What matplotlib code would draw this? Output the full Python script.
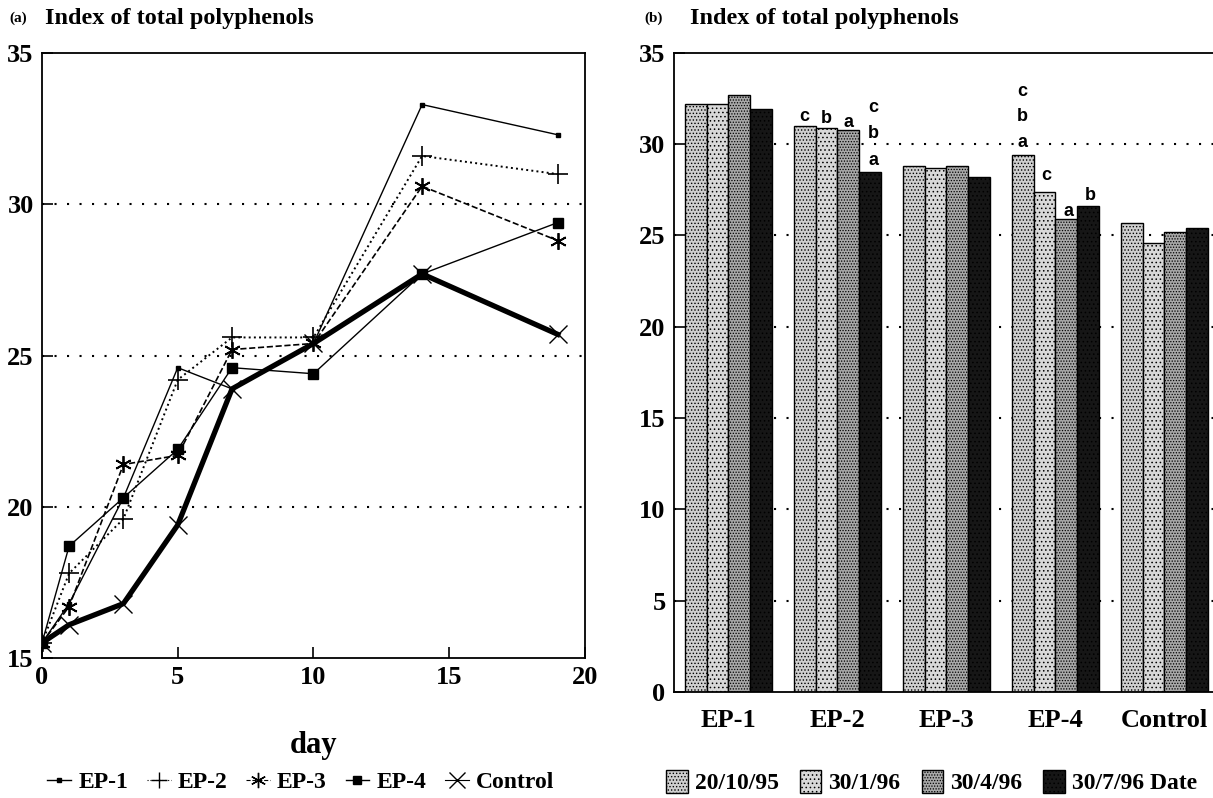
import numpy as np
import matplotlib.pyplot as plt
from matplotlib.patches import Patch
from matplotlib.lines import Line2D

plt.rcParams['font.family'] = ['Liberation Serif', 'DejaVu Serif']
plt.rcParams['font.weight'] = 'bold'
plt.rcParams['hatch.linewidth'] = 0.6

# (a) time course
days = [0, 1, 3, 5, 7, 10, 14, 19]
ep1 = [15.5, 16.8, 20.3, 24.6, 23.9, 25.4, 33.3, 32.3]
ep2 = [15.5, 17.8, 19.6, 24.2, 25.6, 25.6, 31.6, 31.0]
ep3 = [15.5, 16.7, 21.4, 21.7, 25.2, 25.4, 30.6, 28.8]
ep4 = [15.5, 18.7, 20.3, 21.9, 24.6, 24.4, 27.7, 29.4]
control = [15.5, 16.1, 16.8, 19.4, 23.9, 25.4, 27.7, 25.7]

# (b) bars per sampling date
groups = ['EP-1', 'EP-2', 'EP-3', 'EP-4', 'Control']
dates = ['20/10/95', '30/1/96', '30/4/96', '30/7/96 Date']
d1 = [32.2, 31.0, 28.8, 29.4, 25.7]
d2 = [32.2, 30.9, 28.7, 27.4, 24.6]
d3 = [32.7, 30.8, 28.8, 25.9, 25.2]
d4 = [31.9, 28.5, 28.2, 26.6, 25.4]

fig = plt.figure(figsize=(12.13, 7.98), dpi=100)
dots = (0, (1, 5))

# ---- panel (a)
ax1 = fig.add_axes([0.0346, 0.1754, 0.4477, 0.758])
ax1.plot(days, ep1, '-', color='black', lw=1.0, marker='s', ms=3)
ax1.plot(days, ep2, ':', color='black', lw=1.4, marker='+', ms=14, mew=1.2)
ax1.plot(days, ep3, '--', color='black', lw=1.2, marker=(6, 2, 0), ms=12, mew=1.3)
ax1.plot(days, ep4, '-', color='black', lw=1.0, marker='s', ms=6.5)
ax1.plot(days, control, '-', color='black', lw=3.8, marker='x', ms=13, mew=1.0)
ax1.set_xlim(0, 20)
ax1.set_ylim(15, 35)
ax1.set_xticks([0, 5, 10, 15, 20])
ax1.set_yticks([15, 20, 25, 30, 35])
for v in [20, 25, 30]:
    ax1.axhline(v, color='black', ls=dots, lw=1.5)
ax1.tick_params(direction='in', labelsize=19, length=8, width=1.2, pad=6)
ax1.set_xlabel('day', fontsize=22, fontweight='bold', labelpad=30)
for s in ax1.spines.values():
    s.set_linewidth(1.3)

fig.text(0.008, 0.977, '(a)', fontsize=11, fontweight='bold', va='center')
fig.text(0.037, 0.977, 'Index of total polyphenols', fontsize=17.5, fontweight='bold', va='center')

leg1 = [
    Line2D([], [], color='black', lw=1.0, marker='s', ms=3),
    Line2D([], [], color='black', lw=0.8, ls=':', marker='+', ms=11),
    Line2D([], [], color='black', lw=0.8, ls='--', marker=(6, 2, 0), ms=11),
    Line2D([], [], color='black', lw=1.0, marker='s', ms=6),
    Line2D([], [], color='black', lw=0.8, marker='x', ms=11),
]
fig.legend(leg1, ['EP-1', 'EP-2', 'EP-3', 'EP-4', 'Control'], loc='center',
           bbox_to_anchor=(0.248, 0.02), ncol=5, frameon=False, fontsize=17,
           handlelength=1.0, handletextpad=0.3, columnspacing=0.8)

# ---- panel (b)
ax2 = fig.add_axes([0.5556, 0.1328, 0.4493, 0.801])
x = np.arange(len(groups))
w = 0.2
faces = ['#cfcfcf', '#d8d8d8', '#a8a8a8', '#161616']
hatches = ['.....', '....', '......', '....']
for i, vals in enumerate([d1, d2, d3, d4]):
    ax2.bar(x - 0.3 + i * w, vals, w, color=faces[i], edgecolor='black',
            hatch=hatches[i], lw=1.0, zorder=2)
ax2.set_xlim(-0.5, 4.5)
ax2.set_ylim(0, 35)
ax2.set_yticks(range(0, 36, 5))
ax2.set_xticks(x)
ax2.set_xticklabels(groups)
for v in range(5, 35, 5):
    ax2.axhline(v, color='black', ls=dots, lw=1.5, zorder=1)
ax2.tick_params(axis='y', direction='in', labelsize=19, length=8, width=1.2, pad=6)
ax2.tick_params(axis='x', length=0, labelsize=19, pad=12)
for s in ax2.spines.values():
    s.set_linewidth(1.3)

# significance letters
lk = dict(fontsize=13, fontweight='bold', fontfamily=['Liberation Sans', 'DejaVu Sans'],
          ha='center', va='center')
ax2.text(1 - 0.3, 31.5, 'c', **lk)
ax2.text(1 - 0.1, 31.4, 'b', **lk)
ax2.text(1 + 0.1, 31.2, 'a', **lk)
ax2.text(1 + 0.33, 32.0, 'c', **lk)
ax2.text(1 + 0.33, 30.6, 'b', **lk)
ax2.text(1 + 0.33, 29.1, 'a', **lk)
ax2.text(3 - 0.3, 32.9, 'c', **lk)
ax2.text(3 - 0.3, 31.5, 'b', **lk)
ax2.text(3 - 0.3, 30.1, 'a', **lk)
ax2.text(3 - 0.08, 28.3, 'c', **lk)
ax2.text(3 + 0.12, 26.3, 'a', **lk)
ax2.text(3 + 0.32, 27.2, 'b', **lk)

fig.text(0.531, 0.977, '(b)', fontsize=11, fontweight='bold', va='center')
fig.text(0.569, 0.977, 'Index of total polyphenols', fontsize=17.5, fontweight='bold', va='center')

leg2 = [Patch(facecolor=faces[i], edgecolor='black', hatch=hatches[i]) for i in range(4)]
fig.legend(leg2, dates, loc='center', bbox_to_anchor=(0.768, 0.02), ncol=4,
           frameon=False, fontsize=17, handlelength=0.9, handleheight=1.1,
           handletextpad=0.3, columnspacing=0.9)

fig.savefig('out.png', dpi=100)
